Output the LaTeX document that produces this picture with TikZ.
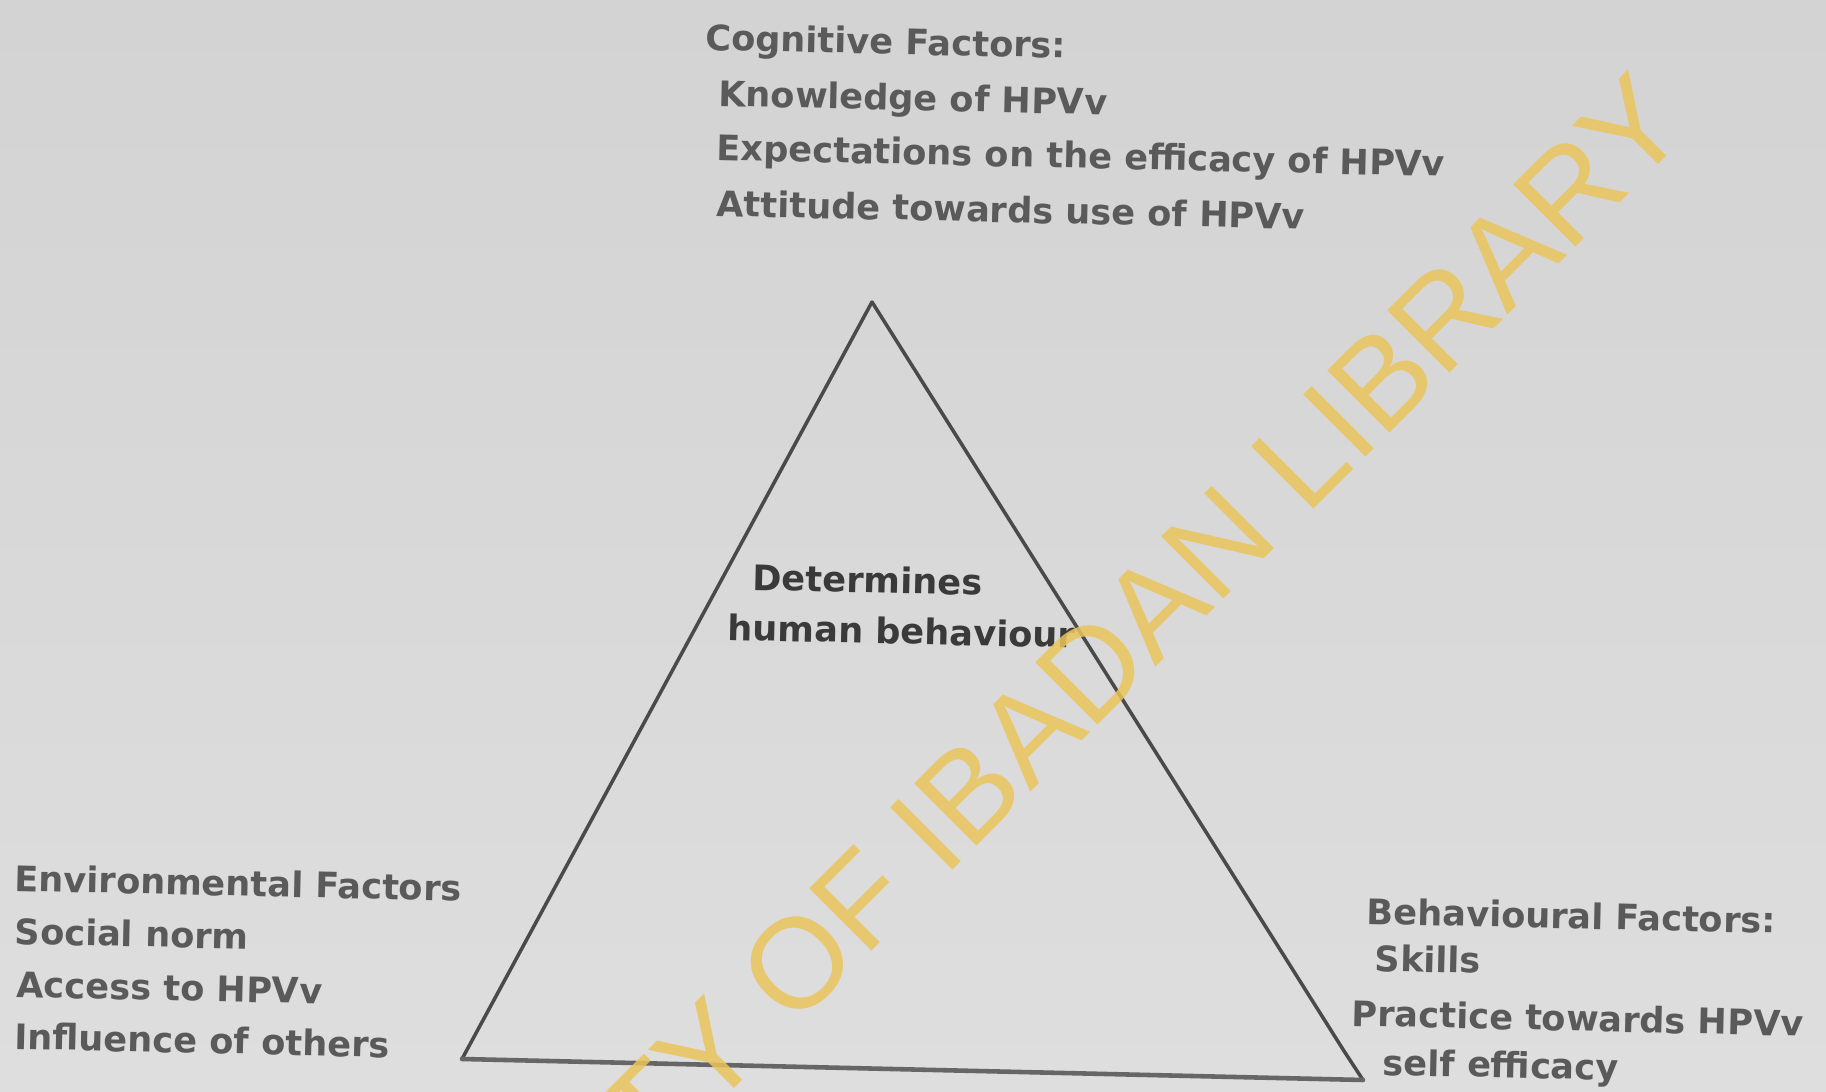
\documentclass[tikz,border=0pt]{standalone}
\usepackage{fontspec}
\setmainfont{DejaVu Sans}
\newfontfamily\markfont{Liberation Sans}
\definecolor{papertop}{HTML}{D3D3D3}
\definecolor{paperbot}{HTML}{DEDEDE}
\definecolor{inkgrey}{HTML}{5A5A5A}
\definecolor{inkdark}{HTML}{3A3A3A}
\definecolor{edgegrey}{HTML}{4A4A4A}
\definecolor{basegrey}{HTML}{666666}
\definecolor{markyellow}{HTML}{EAC55B}
\begin{document}
\begin{tikzpicture}[x=0.01cm,y=-0.01cm,
    factor/.style={anchor=base west,inner sep=0pt,rotate=-1.3,text=inkgrey,
        font=\fontsize{10pt}{12pt}\selectfont\bfseries},
    core/.style={factor,text=inkdark},
    side/.style={line width=1pt,draw=edgegrey,line join=round},
    base/.style={line width=1.3pt,draw=basegrey,line cap=round}]
    \useasboundingbox(0,0)rectangle(1826,1092);
    % scanned page
    \fill[top color=papertop,bottom color=paperbot](0,0)rectangle(1826,1092);
    % triangle
    \coordinate (apex) at (872,302);
    \coordinate (lcorner) at (462,1059);
    \coordinate (rtip) at (1344,1051);
    \coordinate (rcorner) at (1363,1080);
    \draw[side](lcorner)--(apex)--(rtip)--(rcorner);
    \draw[base](lcorner)--(rcorner);
    % cognitive factors
    \node[factor] (cog) at (705,50) {Cognitive Factors:};
    \node[factor] (cogA) at (718,106) {Knowledge of HPVv};
    \node[factor] (cogB) at (716,160) {Expectations on the efficacy of HPVv};
    \node[factor] (cogC) at (716,216) {Attitude towards use of HPVv};
    % environmental factors
    \node[factor] (env) at (14,891) {Environmental Factors};
    \node[factor] (envA) at (14,944) {Social norm};
    \node[factor] (envB) at (16,997) {Access to HPVv};
    \node[factor] (envC) at (14,1049) {Influence of others};
    % behavioural factors
    \node[factor] (beh) at (1366,924) {Behavioural Factors:};
    \node[factor] (behA) at (1374,971) {Skills};
    \node[factor] (behB) at (1351,1026) {Practice towards HPVv};
    \node[factor] (behC) at (1382,1075) {self efficacy};
    % centre
    \node[core] (det) at (752,590) {Determines};
    \node[core] (detB) at (727,640) {human behaviour};
    % library stamp
    \begin{scope}
        \clip(0,0)rectangle(1826,1092);
        \node[anchor=base east,inner sep=0pt,rotate=45,text=markyellow,text opacity=0.85,
            font=\markfont\fontsize{36.4pt}{40pt}\selectfont] (stamp) at (1693,130)
            {TY OF IBADAN LIBRARY};
    \end{scope}
\end{tikzpicture}
\end{document}
